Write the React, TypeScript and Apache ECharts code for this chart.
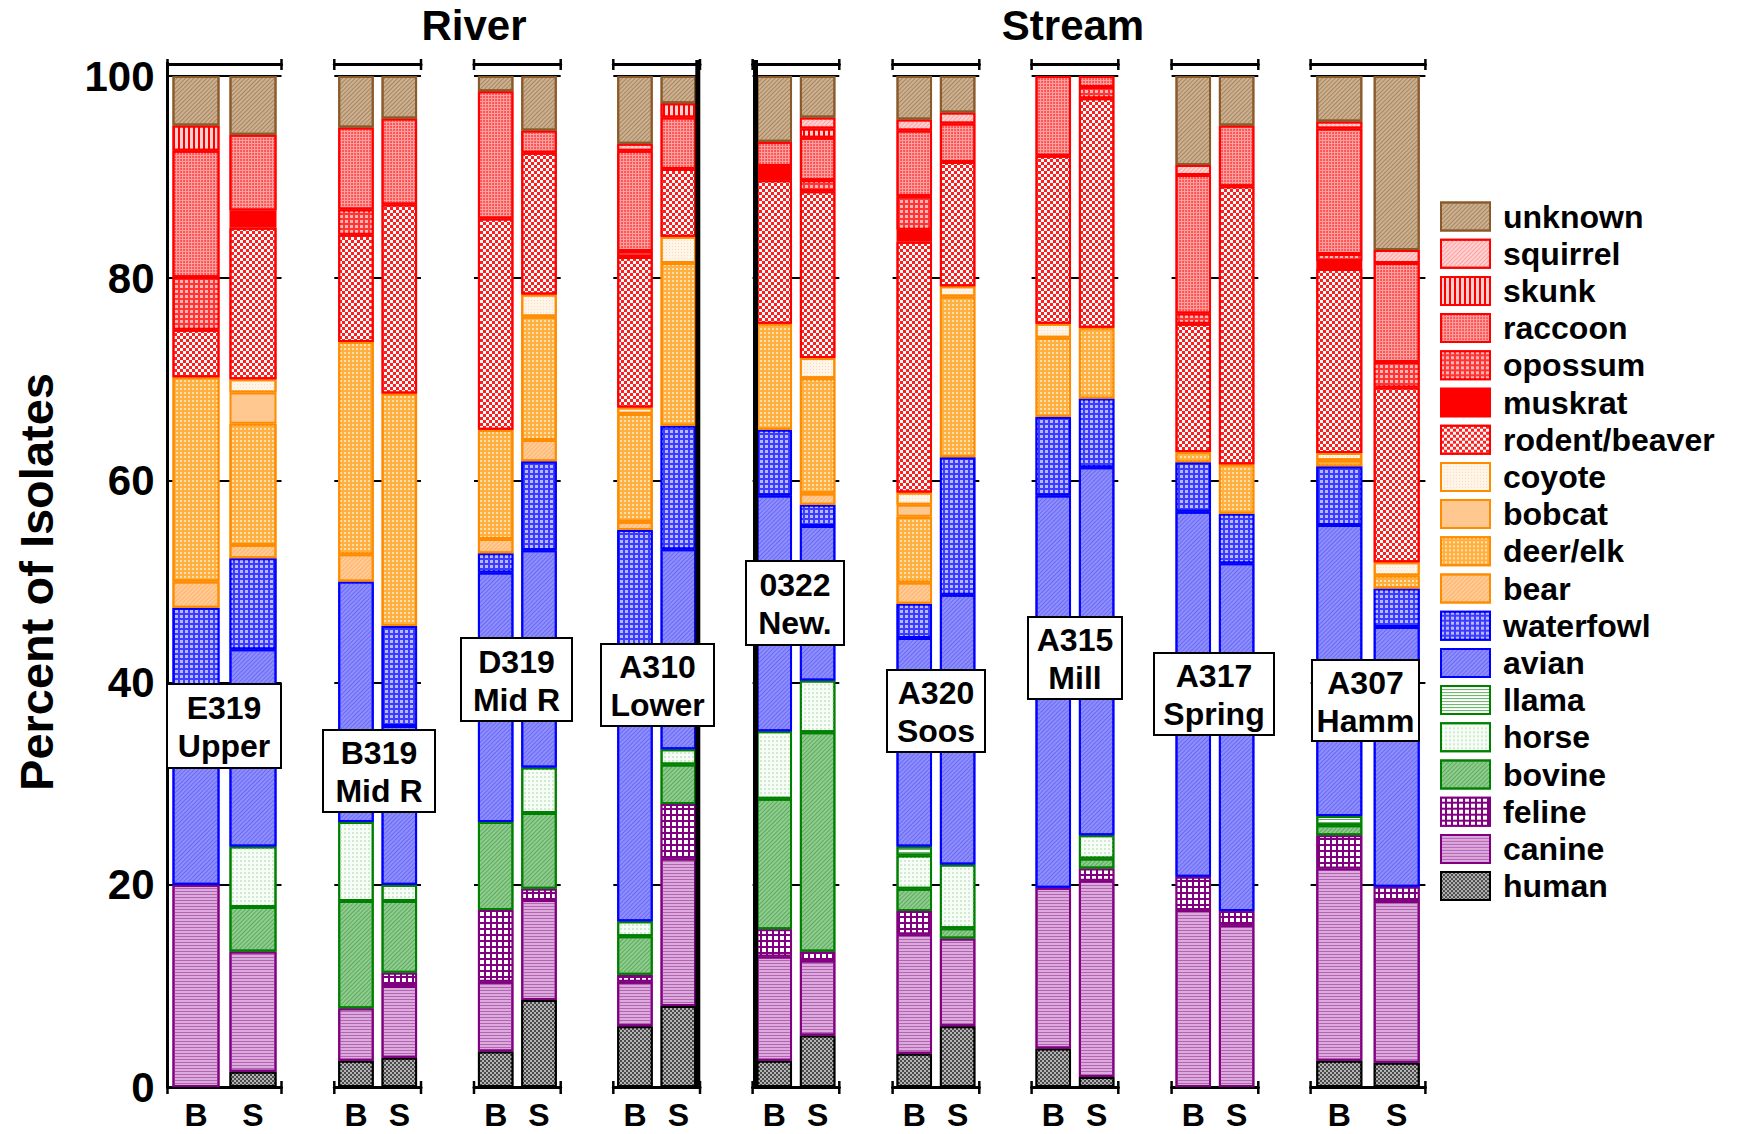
import React, { useEffect, useRef } from 'react';
import * as echarts from 'echarts';

// ---------- DATA ----------
const barLabels = ['B', 'S'];
const stations = ['E319\nUpper', 'B319\nMid R', 'D319\nMid R', 'A310\nLower', '0322\nNew.', 'A320\nSoos', 'A315\nMill', 'A317\nSpring', 'A307\nHamm'];
const regionTitles = ['River', 'Stream'];
const yAxisTitle = 'Percent of Isolates';

// Bars in order: E319 B, E319 S, B319 B, B319 S, D319 B, D319 S, A310 B, A310 S,
// 0322 B, 0322 S, A320 B, A320 S, A315 B, A315 S, A317 B, A317 S, A307 B, A307 S
const human = [0, 1.5, 2.6, 2.9, 3.5, 8.6, 6.0, 8.0, 2.6, 5.1, 3.3, 6.0, 3.8, 1.0, 0, 0, 2.6, 2.4];
const canine = [20, 11.9, 5.2, 7.1, 6.9, 9.9, 4.4, 14.6, 10.3, 7.4, 11.8, 8.7, 15.9, 19.4, 17.5, 16.0, 19.0, 16.0];
const feline = [0, 0, 0, 1.3, 7.1, 1.1, 0.7, 5.4, 2.7, 0.9, 2.3, 0, 0, 1.2, 3.3, 1.4, 3.3, 1.4];
const bovine = [0, 4.4, 10.6, 7.1, 8.7, 7.5, 3.8, 3.9, 12.9, 21.7, 2.2, 1.0, 0, 1.0, 0, 0, 1.0, 0];
const horse = [0, 6.0, 7.8, 1.6, 0, 4.5, 1.5, 1.5, 6.7, 5.1, 3.3, 6.3, 0, 2.3, 0, 0, 0, 0];
const llama = [0, 0, 0, 0, 0, 0, 0, 0, 0, 0, 0.9, 0, 0, 0, 0, 0, 0.9, 0];
const avian = [18, 19.5, 23.8, 15.7, 24.7, 21.5, 25.6, 19.8, 23.3, 15.3, 20.6, 26.7, 38.8, 36.4, 36.1, 34.4, 28.8, 25.7];
const waterfowl = [9.4, 9.0, 0, 9.9, 1.9, 8.8, 13.1, 12.2, 6.5, 2.1, 3.4, 13.6, 7.8, 6.8, 4.9, 4.9, 5.8, 3.8];
const bear = [2.6, 1.3, 2.7, 0, 1.4, 2.1, 0.8, 0, 0, 1.1, 2.1, 0, 0, 0, 0, 0, 0, 0];
const deerElk = [20.2, 12.0, 21.0, 23.0, 10.8, 12.2, 10.7, 16.1, 10.5, 11.4, 6.5, 15.9, 7.8, 7.0, 1.0, 4.9, 0.6, 1.3];
const bobcat = [0, 3.1, 0, 0, 0, 0, 0, 0, 0, 0, 1.2, 0, 0, 0, 0, 0, 0, 0];
const coyote = [0, 1.3, 0, 0, 0, 2.2, 0.6, 2.6, 0, 2.0, 1.2, 1.0, 1.4, 0, 0, 0, 0.7, 1.3];
const rodentBeaver = [4.7, 15.0, 10.6, 18.7, 20.9, 14.0, 14.9, 6.7, 14.2, 16.5, 24.8, 12.3, 16.6, 22.7, 12.7, 27.5, 18.2, 17.3];
const muskrat = [0, 1.7, 0, 0, 0, 0, 0, 0, 1.4, 0, 1.2, 0, 0, 0, 0, 0, 0.8, 0];
const opossum = [5.2, 0, 2.5, 0, 0, 0, 0.6, 0, 0, 1.1, 3.3, 0, 0, 1.1, 1.0, 0, 0.7, 2.5];
const raccoon = [12.5, 7.5, 8.1, 8.5, 12.6, 2.2, 9.9, 5.1, 2.4, 4.2, 6.5, 3.8, 7.9, 1.1, 13.7, 6.0, 12.4, 9.8];
const skunk = [2.5, 0, 0, 0, 0, 0, 0, 1.4, 0, 0.9, 0, 0, 0, 0, 0, 0, 0, 0];
const squirrel = [0, 0, 0, 0, 0, 0, 0.7, 0, 0, 1.1, 1.1, 1.1, 0, 0, 1.0, 0, 0.7, 1.3];
const unknown = [4.9, 5.8, 5.1, 4.2, 1.5, 5.4, 6.7, 2.7, 6.5, 4.1, 4.3, 3.6, 0, 0, 8.8, 4.9, 4.5, 17.2];

// ---------- STYLE / LAYOUT ----------
const FONT = '"Liberation Sans", Arial, Helvetica, sans-serif';
const GRID_LEFT = [167.5, 334.3, 474, 613.3, 752.6, 892.6, 1031.6, 1171.6, 1310.6];
const GRID_WIDTH = [114, 86.7, 86.7, 86.7, 86.7, 86.7, 86.7, 86.7, 114.8];
const BAR_WIDTH = [47, 35.5, 35.5, 35.5, 35.5, 35.5, 35.5, 35.5, 46];
const GRID_TOP = 76;
const GRID_HEIGHT = 1011;
const LABEL_BOX = [
  [167, 684, 114, 84], [323, 730, 112, 82], [461, 638, 111, 83], [601, 644, 113, 82],
  [746, 561, 98, 84], [887, 670, 98, 82], [1028, 617, 94, 82], [1154, 653, 120, 82], [1312, 660, 107, 81],
];

const diag = (color: string, w = 1, gap = 2) => ({ symbol: 'rect', symbolSize: 1, dashArrayX: [1, 0], dashArrayY: [w, gap], rotation: -Math.PI / 4, color });
const hstripe = (color: string, w = 1, gap = 2) => ({ symbol: 'rect', symbolSize: 1, dashArrayX: [1, 0], dashArrayY: [w, gap], rotation: 0, color });
const vstripe = (color: string, w = 1, gap = 2) => ({ symbol: 'rect', symbolSize: 1, dashArrayX: [1, 0], dashArrayY: [w, gap], rotation: Math.PI / 2, color });
const squares = (color: string, s: number, g: number) => ({ symbol: 'rect', symbolSize: 1, dashArrayX: [s, g], dashArrayY: [s, g], color });
const checker = (color: string, s: number) => ({ symbol: 'rect', symbolSize: 1, dashArrayX: [[s, s], [0, s, s, 0]], dashArrayY: [s, 0], color });
const dots = (color: string, s: number, g: number) => ({ symbol: 'circle', symbolSize: 0.9, dashArrayX: [s, g], dashArrayY: [s, g], color });

// stacking order bottom -> top
const SPECIES: any[] = [
  { name: 'human', data: human, fill: '#4a4a4a', border: '#000000', decal: checker('#b4b4b4', 1.5) },
  { name: 'canine', data: canine, fill: '#dcaadc', border: '#800080', decal: hstripe('#b266b2', 1, 2) },
  { name: 'feline', data: feline, fill: '#800080', border: '#800080', decal: squares('#ffffff', 4, 1.5) },
  { name: 'bovine', data: bovine, fill: '#8fcc8f', border: '#008000', decal: diag('#5eaa5e', 1, 2) },
  { name: 'horse', data: horse, fill: '#f6fcf6', border: '#008000', decal: squares('#d2ead2', 1.5, 1.5) },
  { name: 'llama', data: llama, fill: '#ffffff', border: '#008000', decal: hstripe('#5fb05f', 1, 1.5) },
  { name: 'avian', data: avian, fill: '#8e8eff', border: '#0000ff', decal: diag('#6a6af2', 1, 2) },
  { name: 'waterfowl', data: waterfowl, fill: '#3c3cff', border: '#0000ff', decal: squares('#b8b8ff', 3, 1.2) },
  { name: 'bear', data: bear, fill: '#ffcc99', border: '#ff8c00', decal: diag('#ffb366', 1, 2) },
  { name: 'deer/elk', data: deerElk, fill: '#ffb040', border: '#ff8c00', decal: squares('#ffe0ae', 2, 1.2) },
  { name: 'bobcat', data: bobcat, fill: '#ffc890', border: '#ff8c00', decal: null },
  { name: 'coyote', data: coyote, fill: '#fff4e8', border: '#ff8c00', decal: squares('#ffdcb8', 1, 2) },
  { name: 'rodent/beaver', data: rodentBeaver, fill: '#ffffff', border: '#ff0000', decal: checker('#ff1e1e', 3) },
  { name: 'muskrat', data: muskrat, fill: '#ff0000', border: '#ff0000', decal: null },
  { name: 'opossum', data: opossum, fill: '#ff3434', border: '#ff0000', decal: squares('#ffb4b4', 2.5, 1.2) },
  { name: 'raccoon', data: raccoon, fill: '#ffa0a0', border: '#ff0000', decal: dots('#ff3a3a', 1.5, 1) },
  { name: 'skunk', data: skunk, fill: '#ffd0d0', border: '#ff0000', decal: vstripe('#ff0000', 1.5, 2.5) },
  { name: 'squirrel', data: squirrel, fill: '#ffd2d2', border: '#ff0000', decal: diag('#ffa0a0', 1, 2) },
  { name: 'unknown', data: unknown, fill: '#cbb092', border: '#8b5a2b', decal: diag('#a8865f', 1, 2) },
];

function buildOption(): any {
  const grids = GRID_LEFT.map((left, i) => ({ left, top: GRID_TOP, width: GRID_WIDTH[i], height: GRID_HEIGHT }));
  const xAxes: any[] = [];
  const yAxes: any[] = [];
  const series: any[] = [];
  GRID_LEFT.forEach((_, i) => {
    xAxes.push({
      type: 'category', gridIndex: i, data: barLabels, position: 'bottom',
      axisLine: { lineStyle: { color: '#000', width: 3 } },
      axisTick: { alignWithLabel: true, inside: true, length: 5, lineStyle: { color: '#000', width: 2 } },
      axisLabel: { color: '#000', fontSize: 32, fontWeight: 'bold', fontFamily: FONT, margin: 12 },
    });
    xAxes.push({
      type: 'category', gridIndex: i, data: barLabels, position: 'top', offset: 12,
      axisLine: { lineStyle: { color: '#000', width: 3 } },
      axisTick: { alignWithLabel: true, inside: true, length: 6, lineStyle: { color: '#000', width: 2 } },
      axisLabel: { show: false },
    });
    yAxes.push({
      type: 'value', gridIndex: i, min: 0, max: 100, interval: 20,
      axisLine: { show: false }, axisTick: { show: false },
      splitLine: { show: true, lineStyle: { color: '#000', width: 2 } },
      axisLabel: { show: i === 0, color: '#000', fontSize: 42, fontWeight: 'bold', fontFamily: FONT, margin: 13 },
    });
    SPECIES.forEach((sp) => {
      const itemStyle: any = { color: sp.fill, borderColor: sp.border, borderWidth: 2 };
      if (sp.decal) itemStyle.decal = sp.decal;
      series.push({
        type: 'bar', name: sp.name, stack: 'g' + i, xAxisIndex: 2 * i, yAxisIndex: i,
        barWidth: BAR_WIDTH[i], silent: true,
        data: [sp.data[2 * i], sp.data[2 * i + 1]].map((v: number) => (v === 0 ? '-' : v)),
        itemStyle, emphasis: { disabled: true },
      });
    });
  });

  const graphic: any[] = [];
  const textStyle = (text: string, size: number, extra: any = {}) => ({
    text, font: `bold ${size}px ${FONT}`, fill: '#000',
    align: 'center', verticalAlign: 'middle', textAlign: 'center', textVerticalAlign: 'middle', ...extra,
  });
  graphic.push({ type: 'text', x: 474, y: 25, z: 100, style: textStyle(regionTitles[0], 42) });
  graphic.push({ type: 'text', x: 1073, y: 25, z: 100, style: textStyle(regionTitles[1], 42) });
  graphic.push({ type: 'text', x: 36, y: 582, rotation: Math.PI / 2, z: 100, style: textStyle(yAxisTitle, 47) });

  const line = (x1: number, y1: number, x2: number, y2: number, w: number) => ({
    type: 'line', z: 50, shape: { x1, y1, x2, y2 }, style: { stroke: '#000', lineWidth: w },
  });
  const y0 = GRID_TOP + GRID_HEIGHT;
  GRID_LEFT.forEach((l, i) => {
    const r = l + GRID_WIDTH[i];
    graphic.push(line(l, 59, l, 70, 2.5));
    graphic.push(line(r, 59, r, 70, 2.5));
    graphic.push(line(l, y0 - 6, l, y0 + 7, 2.5));
    graphic.push(line(r, y0 - 6, r, y0 + 7, 2.5));
  });
  graphic.push(line(167.5, 62, 167.5, y0 + 1, 3));
  graphic.push(line(697.8, 60, 697.8, y0 + 1, 5));
  graphic.push(line(755.5, 60, 755.5, y0 + 1, 5));

  stations.forEach((st, i) => {
    const [x, y, w, h] = LABEL_BOX[i];
    graphic.push({
      type: 'group', z: 200, children: [
        { type: 'rect', z: 200, shape: { x, y, width: w, height: h }, style: { fill: '#fff', stroke: '#000', lineWidth: 2 } },
        { type: 'text', z: 201, x: x + w / 2, y: y + h / 2 + 1, style: textStyle(st, 32, { lineHeight: 38 }) },
      ],
    });
  });

  return {
    animation: false,
    backgroundColor: '#ffffff',
    grid: grids,
    xAxis: xAxes,
    yAxis: yAxes,
    legend: {
      orient: 'vertical', left: 1435, top: 195.5, itemWidth: 49, itemHeight: 28, itemGap: 5.2,
      icon: 'rect', selectedMode: false,
      data: SPECIES.map((s) => s.name).reverse(),
      textStyle: { color: '#000', fontSize: 32, fontWeight: 'bold', fontFamily: FONT, padding: [0, 0, 0, 8] },
    },
    series,
    graphic,
  };
}

export default function App() {
  const ref = useRef<HTMLDivElement>(null);
  useEffect(() => {
    if (!ref.current) return;
    const chart = echarts.init(ref.current, undefined, { renderer: 'svg' });
    chart.setOption(buildOption());
    return () => chart.dispose();
  }, []);
  return <div ref={ref} style={{ position: 'fixed', left: 0, top: 0, width: 1751, height: 1134, background: '#fff' }} />;
}
